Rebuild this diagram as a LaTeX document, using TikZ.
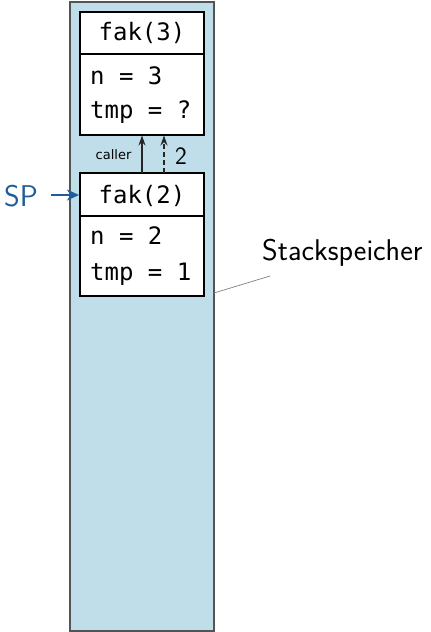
\documentclass[tikz,border=0pt]{standalone}
\usepackage{fontspec}
\newfontfamily\monofont{DejaVu Sans Mono}
\newfontfamily\smallsans{DejaVu Sans}
\usetikzlibrary{arrows.meta}
\definecolor{stackfill}{HTML}{C0DDEA}
\definecolor{stackedge}{HTML}{505558}
\definecolor{spblue}{HTML}{1F5C99}
\tikzset{
  frame/.style={draw=black, line width=1.1pt, fill=white},
  code/.style={font=\monofont\fontsize{24}{28}\selectfont, inner sep=0pt, anchor=base west},
  head/.style={font=\monofont\fontsize{24}{28}\selectfont, inner sep=0pt, anchor=base},
  link/.style={draw=black!85, line width=1.2pt, -{Stealth[length=10pt,width=7pt,inset=3.5pt]}},
}
\begin{document}
\begin{tikzpicture}[x=1pt,y=-1pt]
  \useasboundingbox (0,0) rectangle (431,632);
  % the stack memory
  \draw[fill=stackfill, draw=stackedge, line width=1.5pt] (70,2) rectangle (214,631);
  \coordinate (stackedge) at (214,293);
  % frame of fak(3)
  \draw[frame] (80,12) rectangle (204,135);
  \draw[line width=1.1pt] (80,54) -- (204,54);
  \node[head] (h3) at (142,40) {fak(3)};
  \node[code] (n3) at (90,84) {n = 3};
  \node[code] (t3) at (90,118) {tmp = ?};
  \coordinate (f3a) at (142,135.5);
  \coordinate (f3b) at (164,135.5);
  % frame of fak(2)
  \draw[frame] (80,173) rectangle (204,296);
  \draw[line width=1.1pt] (80,216) -- (204,216);
  \node[head] (h2) at (142,203) {fak(2)};
  \node[code] (n2) at (90,244) {n = 2};
  \node[code] (t2) at (90,280) {tmp = 1};
  \coordinate (f2a) at (142,172.5);
  \coordinate (f2b) at (164,172.5);
  \coordinate (f2l) at (79,195);
  % links between the frames
  \draw[link] (f2a) -- (f3a);
  \draw[link, dash pattern=on 5pt off 3pt] (f2b) -- (f3b);
  \node[font=\smallsans\fontsize{13}{15}\selectfont, anchor=base, inner sep=0pt] (caller) at (113.5,159) {caller};
  \node[font=\sffamily\fontsize{25}{30}\selectfont, anchor=base, inner sep=0pt] (ret) at (181,164) {2};
  % stack pointer
  \node[font=\sffamily\fontsize{30}{36}\selectfont, text=spblue, anchor=base west, inner sep=0pt] (sp) at (4,206) {SP};
  \coordinate (spstart) at (51,195);
  \draw[spblue, line width=1.6pt, -{Stealth[length=12pt,width=11pt,inset=3.5pt]}] (spstart) -- (f2l);
  % label of the stack memory
  \node[font=\sffamily\fontsize{30}{36}\selectfont, anchor=base west, inner sep=0pt] (lbl) at (262,260) {Stackspeicher};
  \coordinate (lblfoot) at (270,276);
  \draw[gray, line width=0.7pt] (stackedge) -- (lblfoot);
\end{tikzpicture}
\end{document}
